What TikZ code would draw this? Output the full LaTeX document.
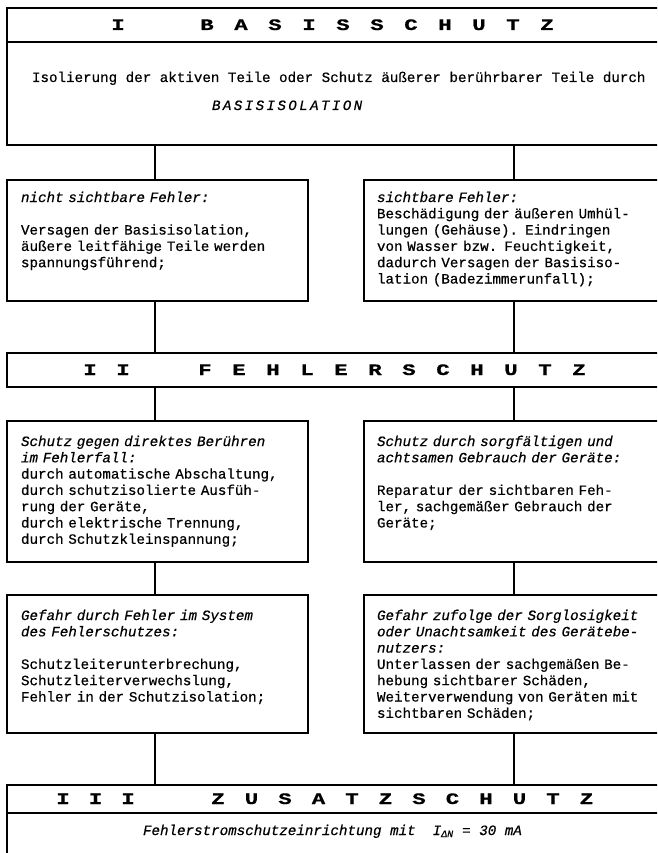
\documentclass[tikz,border=0pt]{standalone}
\usepackage{graphicx}
\usepackage{fontspec}
\setmainfont{Liberation Mono}[FakeBold=0.5]
\newfontfamily\headfont{Liberation Mono}[FakeBold=0.5]
\setlength{\lineskiplimit}{-100pt}
\ExplSyntaxOn
\NewDocumentCommand\spread{mm}{\tl_map_inline:nn {#2} {\makebox[#1][l]{##1}}}
\NewDocumentCommand\widespread{mm}{\tl_map_inline:nn {#2} {\makebox[#1][c]{\scalebox{1.4}[1]{##1}}}}
\ExplSyntaxOff
\tikzset{
  frame/.style={draw, line width=1.4pt, inner sep=0pt, outer sep=0pt, anchor=north west},
  link/.style={line width=1.4pt},
  body/.style={anchor=base west, inner sep=0pt, outer sep=0pt, align=left, text width=295pt,
    font=\fontsize{14.2}{16.3}\selectfont},
  single/.style={anchor=base west, inner sep=0pt, outer sep=0pt, font=\fontsize{14.2}{16.3}\selectfont},
  head/.style={anchor=base west, inner sep=0pt, outer sep=0pt, font=\headfont\fontsize{16}{16}\selectfont\bfseries},
}
\begin{document}
\begin{tikzpicture}[x=1pt,y=-1pt]
\useasboundingbox (0,0) rectangle (657,853);
\clip (0,0) rectangle (657,853);
\fill[white] (0,0) rectangle (657,853);

% connector positions
\coordinate (cl) at (155,0);
\coordinate (cr) at (514,0);

% ---------- I BASISSCHUTZ ----------
\node[frame, minimum width=680pt, minimum height=137pt] (top) at (7,8) {};
\draw[link] (7,42) -- (690,42);
\node[head] (h1num) at (101.5,30) {\widespread{33pt}{I}};
\node[head] (h1word) at (190,30) {\widespread{34pt}{BASISSCHUTZ}};
\node[single] (t1) at (32,82) {Isolierung der aktiven Teile oder Schutz äußerer berührbarer Teile durch};
\node[single] (t2) at (212,110) {\itshape\spread{10.9pt}{BASISISOLATION}};

% ---------- row 1 ----------
\node[frame, minimum width=301pt, minimum height=121pt] (l1) at (7,180) {};
\node[frame, minimum width=302pt, minimum height=121pt] (r1) at (364,180) {};
\node[body] (l1t) at (21,202) {\textit{nicht sichtbare Fehler:}\\[16.3pt]
Versagen der Basisisolation,\\
äußere leitfähige Teile werden\\
spannungsführend;};
\node[body] (r1t) at (377,202) {\textit{sichtbare Fehler:}\\
Beschädigung der äußeren Umhül-\\
lungen (Gehäuse). Eindringen\\
von Wasser bzw. Feuchtigkeit,\\
dadurch Versagen der Basisiso-\\
lation (Badezimmerunfall);};

% ---------- II FEHLERSCHUTZ ----------
\node[frame, minimum width=680pt, minimum height=34pt] (fs) at (7,353) {};
\node[head] (h2num) at (73.5,375) {\widespread{33pt}{II}};
\node[head] (h2word) at (188,375) {\widespread{34pt}{FEHLERSCHUTZ}};

% ---------- row 2 ----------
\node[frame, minimum width=301pt, minimum height=141pt] (l2) at (7,421) {};
\node[frame, minimum width=302pt, minimum height=141pt] (r2) at (364,421) {};
\node[body] (l2t) at (21,446) {\textit{Schutz gegen direktes Berühren}\\
\textit{im Fehlerfall:}\\
durch automatische Abschaltung,\\
durch schutzisolierte Ausfüh-\\
rung der Geräte,\\
durch elektrische Trennung,\\
durch Schutzkleinspannung;};
\node[body] (r2t) at (377,446) {\textit{Schutz durch sorgfältigen und}\\
\textit{achtsamen Gebrauch der Geräte:}\\[16.3pt]
Reparatur der sichtbaren Feh-\\
ler, sachgemäßer Gebrauch der\\
Geräte;};

% ---------- row 3 ----------
\node[frame, minimum width=301pt, minimum height=138pt] (l3) at (7,595) {};
\node[frame, minimum width=302pt, minimum height=138pt] (r3) at (364,595) {};
\node[body] (l3t) at (21,620) {\textit{Gefahr durch Fehler im System}\\
\textit{des Fehlerschutzes:}\\[16.3pt]
Schutzleiterunterbrechung,\\
Schutzleiterverwechslung,\\
Fehler in der Schutzisolation;};
\node[body] (r3t) at (377,620) {\textit{Gefahr zufolge der Sorglosigkeit}\\
\textit{oder Unachtsamkeit des Gerätebe-}\\
\textit{nutzers:}\\
Unterlassen der sachgemäßen Be-\\
hebung sichtbarer Schäden,\\
Weiterverwendung von Geräten mit\\
sichtbaren Schäden;};

% ---------- III ZUSATZSCHUTZ ----------
\node[frame, minimum width=680pt, minimum height=100pt] (zs) at (7,785) {};
\draw[link] (7,813) -- (690,813);
\node[head] (h3num) at (46.75,804) {\widespread{32.5pt}{III}};
\node[head] (h3word) at (201.25,804) {\widespread{33.5pt}{ZUSATZSCHUTZ}};
\node[single] (t3) at (143,835) {\itshape Fehlerstromschutzeinrichtung mit~~I\textsubscript{ΔN} = 30 mA};

% ---------- connectors ----------
\draw[link] (top.south -| cl) -- (l1.north -| cl);
\draw[link] (top.south -| cr) -- (r1.north -| cr);
\draw[link] (l1.south -| cl) -- (fs.north -| cl);
\draw[link] (r1.south -| cr) -- (fs.north -| cr);
\draw[link] (fs.south -| cl) -- (l2.north -| cl);
\draw[link] (fs.south -| cr) -- (r2.north -| cr);
\draw[link] (l2.south -| cl) -- (l3.north -| cl);
\draw[link] (r2.south -| cr) -- (r3.north -| cr);
\draw[link] (l3.south -| cl) -- (zs.north -| cl);
\draw[link] (r3.south -| cr) -- (zs.north -| cr);
\end{tikzpicture}
\end{document}
